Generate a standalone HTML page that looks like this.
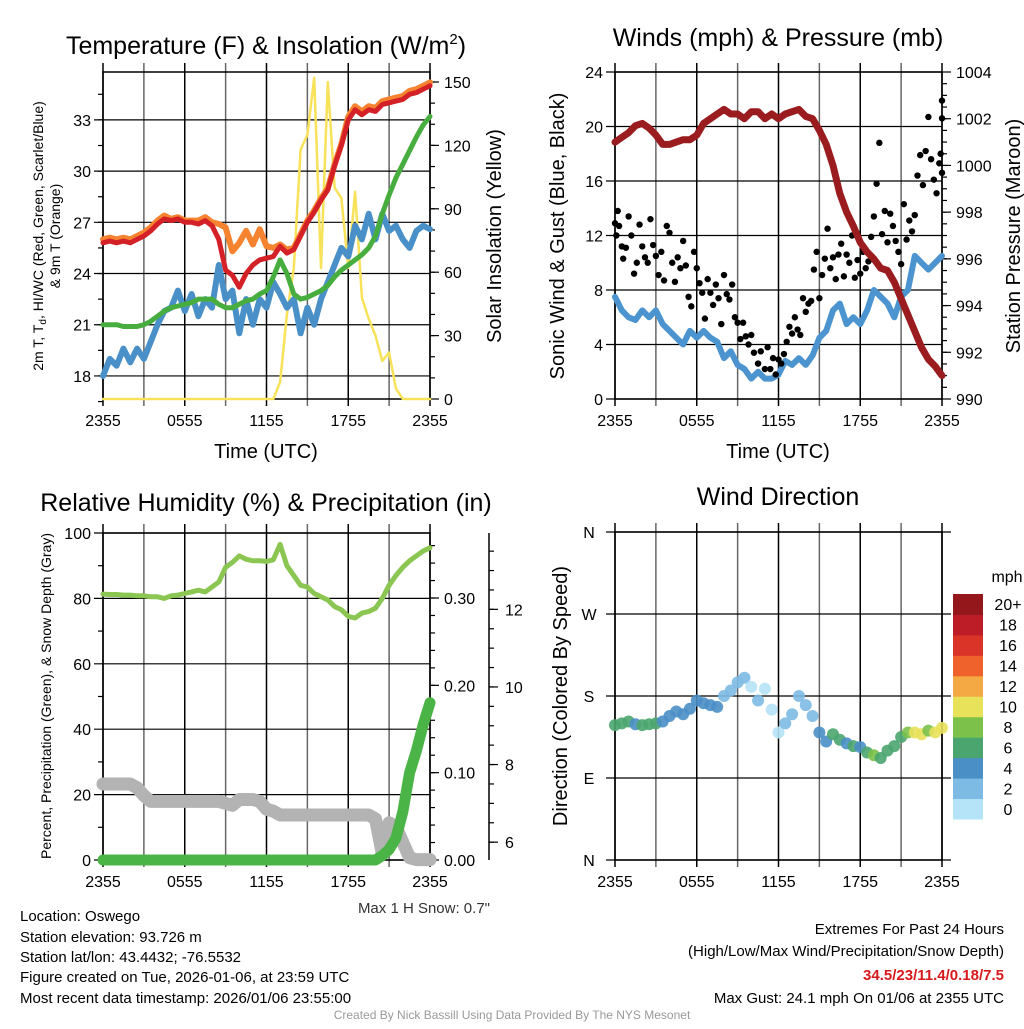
<!DOCTYPE html>
<html><head><meta charset="utf-8"><style>
html,body{margin:0;padding:0;background:#fff;}
svg text{font-family:"Liberation Sans",Arial,sans-serif;}
</style></head><body>
<svg id="c" width="1024" height="1024" viewBox="0 0 1024 1024" xmlns="http://www.w3.org/2000/svg">
<g id="g"></g>
<text x="266" y="54" font-size="25" text-anchor="middle">Temperature (F) &amp; Insolation (W/m<tspan font-size="15" dy="-10">2</tspan><tspan dy="10">)</tspan></text>
<text x="778" y="46" font-size="25" text-anchor="middle">Winds (mph) &amp; Pressure (mb)</text>
<text x="266" y="511" font-size="25" text-anchor="middle">Relative Humidity (%) &amp; Precipitation (in)</text>
<text x="778" y="505" font-size="25" text-anchor="middle">Wind Direction</text>
<text x="266" y="458" font-size="20" text-anchor="middle">Time (UTC)</text>
<text x="778" y="458" font-size="20" text-anchor="middle">Time (UTC)</text>
<text transform="translate(43,236) rotate(-90)" font-size="14" text-anchor="middle">2m T, T<tspan font-size="10" dy="3">d</tspan><tspan dy="-3">, HI/WC (Red, Green, Scarlet/Blue)</tspan></text>
<text transform="translate(60,236) rotate(-90)" font-size="14" text-anchor="middle">&amp; 9m T (Orange)</text>
<text transform="translate(501,236) rotate(-90)" font-size="20" text-anchor="middle">Solar Insolation (Yellow)</text>
<text transform="translate(564,236) rotate(-90)" font-size="20" text-anchor="middle">Sonic Wind &amp; Gust (Blue, Black)</text>
<text transform="translate(1020,236) rotate(-90)" font-size="20" text-anchor="middle">Station Pressure (Maroon)</text>
<text transform="translate(51,696) rotate(-90)" font-size="14" text-anchor="middle">Percent, Precipitation (Green), &amp; Snow Depth (Gray)</text>
<text transform="translate(567,696) rotate(-90)" font-size="20" text-anchor="middle">Direction (Colored By Speed)</text>
<text x="490" y="913" font-size="15" text-anchor="end" fill="#333">Max 1 H Snow: 0.7"</text>
<g font-size="15">
<text x="20" y="921">Location: Oswego</text>
<text x="20" y="942">Station elevation: 93.726 m</text>
<text x="20" y="962">Station lat/lon: 43.4432; -76.5532</text>
<text x="20" y="982">Figure created on Tue, 2026-01-06, at 23:59 UTC</text>
<text x="20" y="1003">Most recent data timestamp: 2026/01/06 23:55:00</text>
</g>
<g font-size="15" text-anchor="end">
<text x="1004" y="934">Extremes For Past 24 Hours</text>
<text x="1004" y="956">(High/Low/Max Wind/Precipitation/Snow Depth)</text>
<text x="1004" y="980" fill="#d7191c" font-weight="bold">34.5/23/11.4/0.18/7.5</text>
<text x="1004" y="1003">Max Gust: 24.1 mph On 01/06 at 2355 UTC</text>
</g>
<text x="512" y="1019" font-size="12" text-anchor="middle" fill="#999">Created By Nick Bassill Using Data Provided By The NYS Mesonet</text>
</svg>
<script>
// half-hour samples, t = 0..24 h from 2355 UTC
var tempRed=[25.8,25.9,25.8,25.9,25.8,26.0,26.2,26.5,26.9,27.2,27.1,27.2,27.0,27.0,26.9,27.1,26.8,26.0,24.2,23.9,23.2,24.0,24.5,24.8,24.9,25.0,25.6,25.2,25.4,26.2,27.0,27.6,28.3,28.9,30.3,31.5,33.0,33.6,33.3,33.6,33.5,33.9,34.0,34.1,34.2,34.5,34.6,34.8,35.0];
var temp9m=[26.0,26.1,26.0,26.1,26.0,26.2,26.4,26.7,27.1,27.4,27.2,27.3,27.1,27.1,27.1,27.3,27.0,26.9,26.7,25.3,25.8,26.5,25.7,26.6,25.6,25.5,25.7,25.4,25.5,26.3,27.1,27.7,28.4,29.0,30.4,31.6,33.2,33.8,33.5,33.8,33.7,34.1,34.2,34.3,34.4,34.7,34.8,35.0,35.2];
var dewGreen=[21.0,21.0,21.0,20.9,20.9,20.9,21.0,21.2,21.5,21.8,22.0,22.1,22.2,22.3,22.5,22.5,22.5,22.2,22.0,22.0,22.2,22.4,22.5,22.8,23.0,23.8,24.8,24.0,22.8,22.5,22.6,22.8,23.0,23.3,23.8,24.2,24.5,24.8,25.1,25.5,26.2,27.5,28.6,29.6,30.4,31.2,32.0,32.7,33.2];
var wcBlue=[18.0,19.0,18.6,19.6,18.8,19.6,19.0,20.0,21.0,21.8,22.0,23.0,21.8,22.8,21.5,22.5,22.0,24.5,22.5,23.0,20.5,22.5,21.0,22.5,22.0,23.5,22.8,22.0,22.5,20.5,22.0,21.0,22.5,23.5,24.5,25.5,25.0,26.8,26.0,27.5,26.0,27.5,26.5,26.8,26.0,25.5,26.5,26.8,26.6];
var solar=[0,0,0,0,0,0,0,0,0,0,0,0,0,0,0,0,0,0,0,0,0,0,0,0,0,0,8,40,62,118,125,152,62,150,100,95,62,98,48,38,30,18,22,5,0,0,0,0,0];
var windSpd=[7.5,6.5,6.0,5.8,6.5,6.0,6.5,5.5,5.0,4.5,4.0,5.0,4.5,5.0,4.5,4.2,3.0,3.5,2.5,2.2,1.5,2.0,1.5,1.5,1.8,2.8,2.5,3.0,2.5,3.2,4.5,5.0,6.5,7.0,5.5,6.0,5.5,6.5,8.0,7.5,7.0,6.0,7.5,8.0,10.5,10.0,9.5,10.0,10.5];
var pressure=[1001.0,1001.2,1001.4,1001.7,1001.8,1001.6,1001.3,1000.9,1000.9,1001.0,1001.1,1001.1,1001.3,1001.8,1002.0,1002.2,1002.4,1002.2,1002.2,1002.0,1002.3,1002.3,1002.0,1002.2,1002.0,1002.2,1002.3,1002.4,1002.1,1002.0,1001.5,1000.9,1000.0,998.8,998.0,997.4,996.7,996.3,996.0,995.6,995.5,995.0,994.3,993.6,992.9,992.2,991.7,991.4,991.0];
var gustT=[0.0,0.1,0.2,0.3,0.5,0.6,0.8,1.0,1.2,1.4,1.6,1.8,2.0,2.2,2.4,2.6,2.8,3.0,3.2,3.4,3.6,3.8,4.0,4.2,4.4,4.6,4.8,5.0,5.2,5.4,5.6,5.8,6.0,6.2,6.4,6.6,6.8,7.0,7.2,7.4,7.6,7.8,8.0,8.2,8.4,8.6,8.8,9.0,9.2,9.4,9.6,9.8,10.0,10.2,10.5,10.7,11.0,11.2,11.4,11.6,11.8,12.0,12.2,12.4,12.6,12.8,13.0,13.2,13.4,13.6,13.8,14.0,14.2,14.4,14.6,14.8,15.0,15.2,15.4,15.6,15.8,16.0,16.2,16.4,16.6,16.8,17.0,17.2,17.4,17.6,17.8,18.0,18.2,18.4,18.6,18.8,19.0,19.2,19.4,19.6,19.8,20.0,20.2,20.4,20.6,20.8,21.0,21.2,21.4,21.6,21.8,22.0,22.2,22.4,22.6,22.8,23.0,23.2,23.4,23.6,23.8,23.9,24.0,24.0,24.0];
var gustV=[12.9,12.0,13.8,12.7,11.2,10.3,11.1,13.4,12.0,9.2,10.0,12.8,11.2,10.4,10.0,13.2,11.3,10.5,9.1,10.8,8.7,12.7,12.2,10.0,8.6,10.4,9.6,11.6,9.8,7.5,6.8,10.8,9.6,8.5,7.8,5.9,8.8,7.8,6.9,8.4,7.4,5.5,9.1,7.7,7.3,8.4,6.0,5.6,4.4,5.6,4.6,4.0,4.7,3.4,2.6,3.5,2.2,3.8,2.2,3.0,1.8,2.9,2.6,3.3,4.2,5.3,4.8,6.0,5.1,4.7,7.4,6.4,7.0,7.2,9.5,10.8,7.4,9.1,10.3,12.5,9.6,10.4,8.8,10.6,11.4,9.0,10.6,10.0,12.0,8.9,10.2,9.2,10.8,9.6,10.1,11.9,13.4,15.8,18.8,12.1,13.8,11.5,13.6,12.7,11.6,10.8,9.9,14.3,11.7,13.1,12.3,13.5,16.4,17.9,15.7,18.2,20.7,17.6,16.1,15.1,17.3,18.0,16.6,20.6,21.9];
var rh=[81.3,81.2,81.2,81.0,81.0,80.8,80.8,80.5,80.5,80.0,80.8,81.0,81.5,82.0,82.5,82.0,83.5,85.0,89.5,91.0,93.0,92.0,91.5,91.5,91.3,91.8,96.5,90.0,87.0,84.0,83.5,81.5,80.5,79.5,77.5,76.5,74.5,74.0,75.5,76.0,77.0,80.0,84.0,87.0,89.5,91.5,93.0,94.5,95.5];
var precip=[0,0,0,0,0,0,0,0,0,0,0,0,0,0,0,0,0,0,0,0,0,0,0,0,0,0,0,0,0,0,0,0,0,0,0,0,0,0,0,0,0,0.005,0.012,0.025,0.055,0.10,0.125,0.155,0.18];
var snowDepth=[7.5,7.5,7.5,7.5,7.5,7.4,7.2,7.05,7.05,7.05,7.05,7.05,7.05,7.05,7.05,7.05,7.05,7.05,7.0,6.95,7.1,7.1,7.1,7.05,6.85,6.8,6.7,6.7,6.7,6.7,6.7,6.7,6.7,6.7,6.7,6.7,6.7,6.7,6.7,6.7,6.6,5.7,6.5,6.4,6.0,5.6,5.55,5.55,5.55];
var windDir=[148,150,152,149,148,149,150,152,158,163,160,166,175,172,170,168,180,186,195,200,190,175,188,165,140,150,160,180,170,158,140,130,138,132,128,125,124,118,115,112,120,125,135,140,140,138,142,140,145];
var xTickLabels=["2355","0555","1155","1755","2355"];
var tempTicks=[18,21,24,27,30,33];
var solarTicks=[0,30,60,90,120,150];
var windTicks=[0,4,8,12,16,20,24];
var presTicks=[990,992,994,996,998,1000,1002,1004];
var rhTicks=[0,20,40,60,80,100];
var precipTicks=["0.00","0.10","0.20","0.30"];
var snowTicks=[6,8,10,12];
var dirLabels=["N","E","S","W","N"];
var cbLabels=["0","2","4","6","8","10","12","14","16","18","20+"];
var cbColors=["#b5e3f7","#7dbae4","#4a8fc6","#4aa56e","#7bc14a","#e8e25a","#f5a945","#ef622b","#da3429","#bd1d26","#93171b"];

var NS="http://www.w3.org/2000/svg";
var G=document.getElementById("g");
function mk(tag,at,parent){var e=document.createElementNS(NS,tag);for(var k in at)e.setAttribute(k,at[k]);(parent||G).appendChild(e);return e;}
function tOf(i){return i*0.5;}
function path(arr,fx,fy){var d="";for(var i=0;i<arr.length;i++){d+=(i?"L":"M")+fx(tOf(i)).toFixed(1)+","+fy(arr[i]).toFixed(1);}return d;}

var L1=103,R1=430,L2=615,R2=942;
function XA(t){return L1+t*(R1-L1)/24;}
function XB(t){return L2+t*(R2-L2)/24;}
function YT(v){return 399-(v-16.65)*17.07;}
function YSo(v){return 399-v*317/150;}
function YW(v){return 399-v*327/24;}
function YP(p){return 399-(p-990)*327/14;}
function YH(v){return 860-v*3.27;}
function YPr(v){return 860-v*873.3;}
function YS(v){return 860-(v-5.54)*38.8;}
function YD(d){return 860-d*328/360;}

function frame(L,R,T,B,name){
  for(var h=0;h<=24;h+=3){var x=L+h*(R-L)/24;
    var ln=mk("line",{x1:x,x2:x,y1:T-9,y2:B+7,stroke:(h%6==0?"#000":"#666"),"stroke-width":1.5});
    
    }
  var r=mk("rect",{x:L,y:T,width:R-L,height:B-T,fill:"none",stroke:"#000","stroke-width":1.5});
  
  
  for(var i=0;i<xTickLabels.length;i++){
    var tx=mk("text",{x:L+i*6*(R-L)/24,y:B+27,"font-size":16,"text-anchor":"middle"});tx.textContent=xTickLabels[i];
    
    }
}
function hgrid(L,R,y,name){var l=mk("line",{x1:L-9,x2:R,y1:y,y2:y,stroke:"#000","stroke-width":1.2});
  
  }
function lab(x,y,s,anchor,name,size){var t=mk("text",{x:x,y:y+6,"font-size":size||16,"text-anchor":anchor});t.textContent=s;
  
  }
function rtick(x,y,len,name){var l=mk("line",{x1:x,x2:x+len,y1:y,y2:y,stroke:"#000","stroke-width":1.2});
  
  }
function line(d,col,w,name){var p=mk("path",{d:d,fill:"none",stroke:col,"stroke-width":w,"stroke-linejoin":"round","stroke-linecap":"round"});
  
  }

// ---- Panel 1 ----
frame(L1,R1,72,399,"temp");
tempTicks.forEach(function(v){hgrid(L1,R1,YT(v),"temp");lab(L1-12,YT(v),v,"end","temp-y-tick-label");});
for(var v=16.5;v<36;v+=1.5){rtick(L1-5,YT(v),5,"temp-minor-tick");}
solarTicks.forEach(function(v){rtick(R1,YSo(v),9,"solar-tick");lab(R1+14,YSo(v),v,"start","solar-tick-label");});
for(var v=10;v<=150;v+=10){rtick(R1,YSo(v),5,"solar-minor-tick");}
line(path(solar,XA,YSo),"#f7e25a",2.5,"solar-line");
line(path(wcBlue,XA,YT),"#4a90c8",6,"windchill-line");
line(path(dewGreen,XA,YT),"#48ad3f",5,"dewpoint-line");
line(path(temp9m,XA,YT),"#f5832f",6,"temp-9m-line");
line(path(tempRed,XA,YT),"#d42027",5,"temp-2m-line");

// ---- Panel 2 ----
frame(L2,R2,72,399,"wind");
windTicks.forEach(function(v){hgrid(L2,R2,YW(v),"wind");lab(L2-12,YW(v),v,"end","wind-y-tick-label");});
presTicks.forEach(function(v){rtick(R2,YP(v),9,"pressure-tick");lab(R2+14,YP(v),v,"start","pressure-tick-label");});
for(var p=990.5;p<1004;p+=0.5){rtick(R2,YP(p),5,"pressure-minor-tick");}
line(path(windSpd,XB,YW),"#4b94cf",6,"sonic-wind-line");
for(var i=0;i<gustT.length;i++){var c=mk("circle",{cx:XB(gustT[i]),cy:YW(gustV[i]),r:3.2,fill:"#000"});
  
  }
line(path(pressure,XB,YP),"#9b1c1f",7,"pressure-line");

// ---- Panel 3 ----
frame(L1,R1,533,860,"rh");
rhTicks.forEach(function(v){hgrid(L1,R1,YH(v),"rh");lab(L1-12,YH(v),v,"end","rh-y-tick-label");});
for(var v=10;v<100;v+=20){rtick(L1-5,YH(v),5,"rh-minor-tick");}
precipTicks.forEach(function(s){var y=YPr(parseFloat(s));rtick(R1,y,9,"precip-tick");lab(R1+14,y,s,"start","precip-tick-label");});
for(var v=0.02;v<0.375;v+=0.02){rtick(R1,YPr(v),5,"precip-minor-tick");}
var ax=mk("line",{x1:489,x2:489,y1:533,y2:860,stroke:"#000","stroke-width":1.5});


snowTicks.forEach(function(v){rtick(489,YS(v),9,"snow-tick");lab(505,YS(v),v,"start","snow-tick-label");});
for(var v=6;v<14;v+=0.5){rtick(489,YS(v),5,"snow-minor-tick");}
line(path(snowDepth,XA,YS),"#b3b3b3",13,"snow-depth-line");
line(path(rh,XA,YH),"#8bc653",5,"rh-line");
line(path(precip,XA,YPr),"#4bb447",11,"precip-line");

// ---- Panel 4 ----
frame(L2,R2,532,860,"dir");
dirLabels.forEach(function(s,i){var y=YD(i*90);hgrid(L2,R2+9,y,"dir");lab(L2-26,y,s,"middle","dir-tick-label");});
function colorFor(s){var k=Math.min(10,Math.floor(s/2));return cbColors[k];}
for(var i=0;i<windDir.length;i++){var c=mk("circle",{cx:XB(tOf(i)),cy:YD(windDir[i]),r:6,fill:colorFor(windSpd[i]),"fill-opacity":0.9});
  
  }
var cbT=594,cbH=225/11;
for(var k=0;k<11;k++){var y=cbT+(10-k)*cbH;
  var r=mk("rect",{x:953,y:y,width:30,height:cbH+0.5,fill:cbColors[k]});
  
  
  lab(1008,y+cbH/2,cbLabels[k],"middle","colorbar-label");}
lab(1007,576,"mph","middle","colorbar-title");
</script>
</body></html>
